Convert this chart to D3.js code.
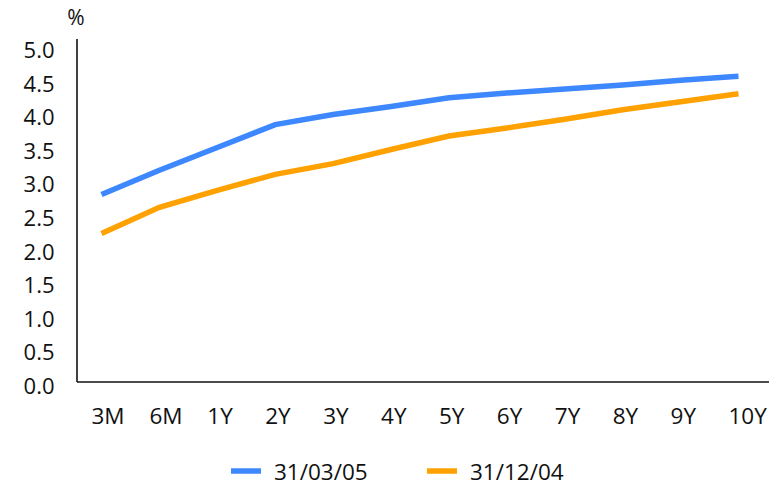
<!DOCTYPE html>
<html>
<head>
<meta charset="utf-8">
<script src="https://cdn.jsdelivr.net/npm/d3@7"></script>
<style>
  body { margin: 0; background: #fff; }
  text { font-family: "Open Sans", "Noto Sans", sans-serif; fill: #111; }
</style>
</head>
<body>
<svg id="chart" width="783" height="487"></svg>
<script>
// --- Data ------------------------------------------------------------
const maturities = ['3M', '6M', '1Y', '2Y', '3Y', '4Y', '5Y', '6Y', '7Y', '8Y', '9Y', '10Y'];
const mar05 = [2.79, 3.15, 3.49, 3.83, 3.98, 4.10, 4.23, 4.30, 4.36, 4.42, 4.49, 4.55];
const dec04 = [2.21, 2.60, 2.85, 3.09, 3.25, 3.46, 3.66, 3.78, 3.91, 4.05, 4.17, 4.29];
const yTicks = [0, 0.5, 1, 1.5, 2, 2.5, 3, 3.5, 4, 4.5, 5];

const series = [
  { name: '31/03/05', values: mar05, color: '#3d87ff' },
  { name: '31/12/04', values: dec04, color: '#ffa100' },
];

// --- Scales ----------------------------------------------------------
const svg = d3.select('#chart');

const x = d3.scalePoint().domain(maturities).range([101.5, 738.5]);
const y = d3.scaleLinear().domain([0, 5]).range([382, 46]);

// y tick labels from the axis generator, domain path dropped
const yAxis = svg.append('g').attr('transform', 'translate(77,0)')
  .call(d3.axisLeft(y).tickValues(yTicks).tickSize(0).tickPadding(22.5)
    .tickFormat(d3.format('.1f')));
yAxis.select('.domain').remove();
yAxis.selectAll('text')
  .attr('dy', '0.36em')
  .attr('y', 3.6)
  .style('font-size', '22px')
  .style('font-family', '"Open Sans", sans-serif')
  .attr('fill', '#111');

svg.append('line')
  .attr('x1', 77).attr('x2', 77)
  .attr('y1', 39).attr('y2', y(0))
  .attr('stroke', '#111').attr('stroke-width', 1.6);

svg.append('line')
  .attr('x1', 77).attr('x2', 769)
  .attr('y1', y(0)).attr('y2', y(0))
  .attr('stroke', '#111').attr('stroke-width', 1.6);

svg.append('g').selectAll('text')
  .data(maturities)
  .join('text')
  .attr('x', d => x(d) - 10)
  .attr('y', 423.5)
  .style('font-size', '22.5px')
  .text(d => d);

svg.append('text')
  .attr('x', 76).attr('y', 25)
  .attr('text-anchor', 'middle')
  .style('font-size', '21px')
  .text('%');

// --- Lines -----------------------------------------------------------
const line = d3.line()
  .x((d, i) => x(maturities[i]))
  .y(d => y(d));

svg.append('g').selectAll('path')
  .data(series)
  .join('path')
  .attr('d', d => line(d.values))
  .attr('fill', 'none')
  .attr('stroke', d => d.color)
  .attr('stroke-width', 5.5)
  .attr('stroke-linejoin', 'miter');

// --- Legend ----------------------------------------------------------
const legend = svg.append('g').selectAll('g')
  .data(series)
  .join('g')
  .attr('transform', (d, i) => `translate(${231 + i * 196},471)`);

legend.append('line')
  .attr('x1', 0).attr('x2', 30)
  .attr('stroke', d => d.color)
  .attr('stroke-width', 5.5);

legend.append('text')
  .attr('x', 43).attr('y', 8.5)
  .style('font-size', '22.5px')
  .text(d => d.name);
</script>
</body>
</html>
